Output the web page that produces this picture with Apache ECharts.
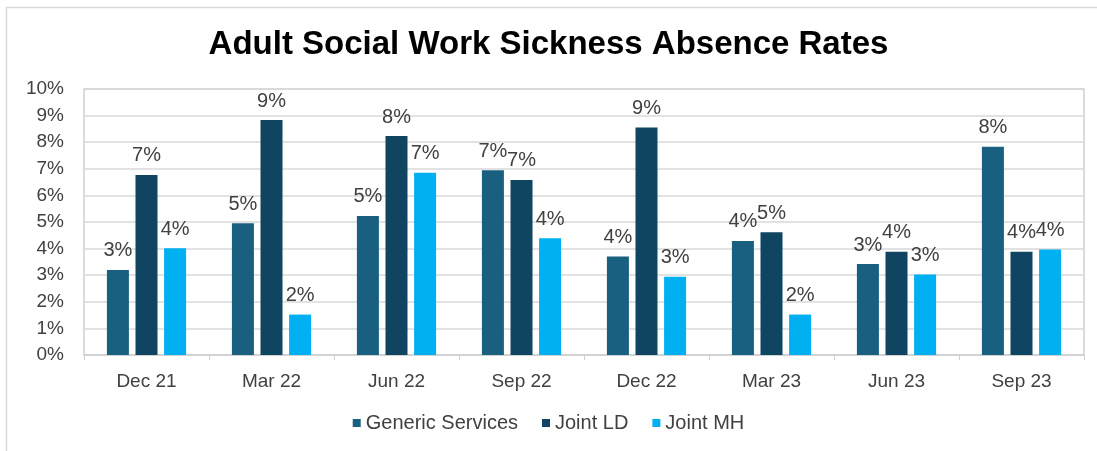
<!DOCTYPE html>
<html>
<head>
<meta charset="utf-8">
<script src="https://cdn.jsdelivr.net/npm/echarts@6/dist/echarts.min.js"></script>
<style>
  html, body { margin: 0; padding: 0; background: #ffffff; }
  #chart { width: 1097px; height: 451px; }
</style>
</head>
<body>
<div id="chart"></div>
<script>
// Quarterly sickness absence rates (%) by service
const quarters = ['Dec 21', 'Mar 22', 'Jun 22', 'Sep 22', 'Dec 22', 'Mar 23', 'Jun 23', 'Sep 23'];
const genericServices = [3.2, 4.95, 5.23, 6.95, 3.7, 4.29, 3.42, 7.83];
const jointLD = [6.77, 8.83, 8.23, 6.58, 8.55, 4.61, 3.88, 3.88];
const jointMH = [4.01, 1.52, 6.85, 4.39, 2.94, 1.52, 3.03, 3.97];
const seriesNames = ['Generic Services', 'Joint LD', 'Joint MH'];
const seriesColors = ['#185f80', '#0f4560', '#00b0f0'];

const textColor = '#404040';
const fontFamily = 'Liberation Sans, Arial, sans-serif';

function barSeries(name, data, color) {
  return {
    name: name,
    type: 'bar',
    data: data,
    barWidth: 22,
    barGap: '30%',
    itemStyle: { color: color },
    label: {
      show: true,
      position: 'top',
      distance: 9,
      color: textColor,
      fontSize: 20,
      fontFamily: fontFamily,
      formatter: p => Math.round(p.value) + '%'
    }
  };
}

const chart = echarts.init(document.getElementById('chart'), null, { renderer: 'canvas' });
chart.setOption({
  backgroundColor: '#ffffff',
  animation: false,
  textStyle: { fontFamily: fontFamily },
  title: {
    text: 'Adult Social Work Sickness Absence Rates',
    left: 'center',
    top: 23,
    textStyle: { fontSize: 33, fontWeight: 'bold', color: '#000000', fontFamily: fontFamily }
  },
  graphic: [{
    type: 'rect',
    shape: { x: 6.5, y: 7.5, width: 1200, height: 600 },
    style: { fill: 'none', stroke: '#d9d9d9', lineWidth: 1.5 },
    silent: true
  }],
  legend: {
    bottom: 13,
    left: 'center',
    itemWidth: 8,
    itemHeight: 8,
    itemGap: 24,
    icon: 'rect',
    textStyle: { fontSize: 20, color: textColor, fontFamily: fontFamily },
    data: seriesNames
  },
  grid: {
    left: 84,
    right: 13,
    top: 89,
    bottom: 96,
    show: true,
    borderColor: '#d0d0d0',
    borderWidth: 1.5
  },
  xAxis: {
    type: 'category',
    data: quarters,
    axisLine: { show: true, lineStyle: { color: '#d0d0d0', width: 1.5 } },
    axisTick: { show: true, alignWithLabel: false, length: 5, lineStyle: { color: '#d0d0d0' } },
    axisLabel: { color: textColor, fontSize: 19, margin: 17, fontFamily: fontFamily }
  },
  yAxis: {
    type: 'value',
    min: 0,
    max: 10,
    interval: 1,
    axisLine: { show: false },
    axisTick: { show: false },
    splitLine: { lineStyle: { color: '#d9d9d9', width: 1.5 } },
    axisLabel: { color: textColor, fontSize: 19, margin: 20, formatter: v => v + '%', fontFamily: fontFamily }
  },
  series: [
    barSeries(seriesNames[0], genericServices, seriesColors[0]),
    barSeries(seriesNames[1], jointLD, seriesColors[1]),
    barSeries(seriesNames[2], jointMH, seriesColors[2])
  ]
});
</script>
</body>
</html>
